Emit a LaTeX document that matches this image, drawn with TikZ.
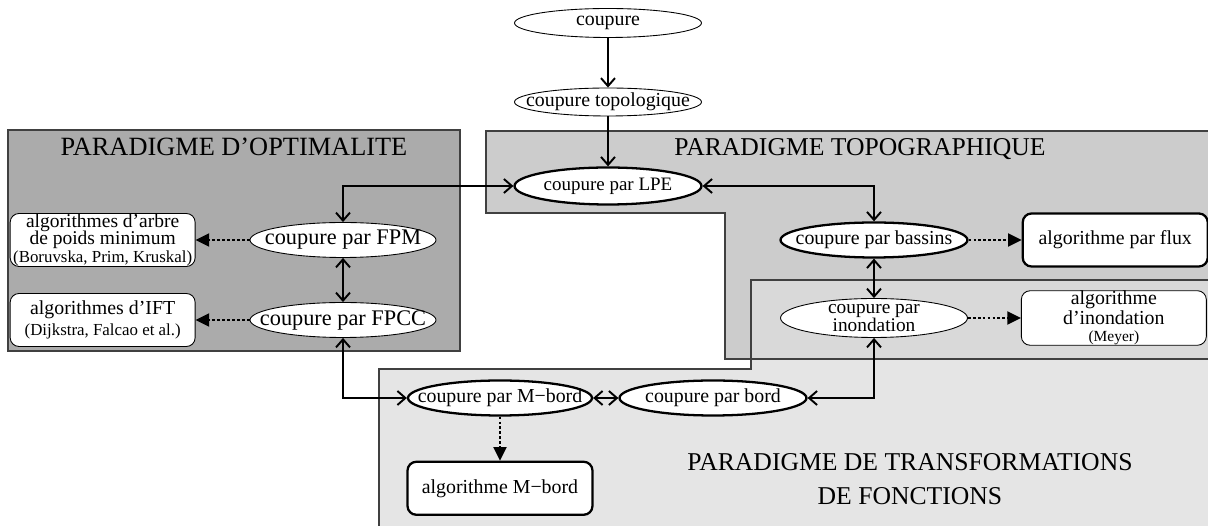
\documentclass[tikz,border=0pt]{standalone}
\usepackage{fontspec}
\setmainfont{Liberation Serif}
\usetikzlibrary{shapes.geometric,positioning,arrows.meta}
\newcommand{\algrefs}[1]{{\fontsize{9.6}{10}\selectfont #1}}
\newcommand{\inell}[1]{\makebox[0pt]{#1}}
\tikzset{
cut/.style={ellipse,draw,fill=white,line width=0.5pt,inner sep=0pt,minimum width=3.74cm,minimum height=0.7cm},
cutb/.style={cut,line width=1.3pt},
algbox/.style={draw,fill=white,rounded corners=5pt,line width=0.5pt,inner sep=0pt,minimum width=3.7cm,minimum height=1.06cm,align=center},
algboxb/.style={algbox,line width=1.3pt},
zoneline/.style={draw=black!75,line width=0.6pt},
title/.style={font=\fontsize{14.6}{19.4}\selectfont,align=center},
link/.style={{Straight Barb[length=1.6mm,width=2.8mm]}-{Straight Barb[length=1.6mm,width=2.8mm]},line width=1.1pt},
onelink/.style={-{Straight Barb[length=1.6mm,width=2.8mm]},line width=1.1pt},
impl/.style={-{Triangle[length=2.7mm,width=2.6mm]},line width=1.1pt,dash pattern=on 1.6pt off 1.2pt}
}
\begin{document}
\begin{tikzpicture}[x=0.02cm,y=-0.02cm,every node/.style={font=\fontsize{11.3}{13}\selectfont}]
\useasboundingbox (0,0) rectangle (1208,526);
% zones
\fill[black!10] (379,526) -- (379,369) -- (751,369) -- (751,280) -- (1208,280) -- (1208,526) -- cycle;
\fill[black!20] (486,131) -- (1208,131) -- (1208,359) -- (725,359) -- (725,213) -- (486,213) -- cycle;
\fill[black!15] (751,280) rectangle (1208,359);
\draw[zoneline] (379,527) -- (379,369) -- (751,369) -- (751,280) -- (1209,280);
\draw[zoneline] (1209,131) -- (486,131) -- (486,213) -- (725,213) -- (725,359) -- (1209,359);
\filldraw[zoneline,fill=black!33] (8,130) rectangle (460,351);
\node[title,font=\fontsize{15}{19}\selectfont] (optim) at (234,147) {PARADIGME D'OPTIMALITE};
\node[title] (topog) at (860,149) {PARADIGME TOPOGRAPHIQUE};
\node[title] (transf) at (910,479) {PARADIGME DE TRANSFORMATIONS\\DE FONCTIONS};
% coupures
\node[cut,minimum height=0.58cm] (coup) at (608,23) {\inell{coupure}};
\node[cut,minimum height=0.56cm] (topo) at (608,102) {\inell{coupure topologique}};
\node[cutb,minimum height=0.74cm,font=\fontsize{10.8}{13}\selectfont] (lpe) at (608,186) {\inell{coupure par LPE}};
\node[cut,minimum width=3.72cm,font=\fontsize{12.7}{14}\selectfont] (fpm) at (343,240) {\inell{coupure par FPM}};
\node[cut,minimum width=3.72cm,font=\fontsize{12.7}{14}\selectfont] (fpcc) at (343,320) {\inell{coupure par FPCC}};
\node[cutb] (bassins) at (874,240) {\inell{coupure par bassins}};
\node[cut,minimum height=0.78cm,font=\fontsize{11}{13}\selectfont] (inond) at (874,318) {\inell{\raisebox{-0.25em}[0pt][0pt]{\begin{tabular}{@{}c@{}}coupure par\\[-2.6pt]inondation\end{tabular}}}};
\node[cutb,minimum width=3.68cm] (mbord) at (500,398) {\inell{coupure par M−bord}};
\node[cutb] (bord) at (713,398) {\inell{coupure par bord}};
% algorithmes
\node[algbox,left=1.08cm of fpm,font=\fontsize{11.1}{10.2}\selectfont] (arbre) {algorithmes d'arbre\\de poids minimum\\\algrefs{(Boruvska, Prim, Kruskal)}};
\node[algbox,left=1.08cm of fpcc,font=\fontsize{11.3}{11.6}\selectfont] (ift) {algorithmes d'IFT\\\algrefs{(Dijkstra, Falcao et al.)}};
\node[algboxb,right=1.06cm of bassins] (flux) {algorithme par flux};
\node[algbox,right=1.06cm of inond,font=\fontsize{11.3}{10}\selectfont] (alginond) {algorithme\\d'inondation\\{\fontsize{8.8}{8}\selectfont (Meyer)}};
\node[algboxb,below=0.88cm of mbord] (algmbord) {algorithme M−bord};
% liens
\draw[onelink] (coup) -- (topo);
\draw[onelink] (topo) -- (lpe);
\draw[link] (fpm.north) |- (lpe.west);
\draw[link] (lpe.east) -| (bassins.north);
\draw[link] (fpm) -- (fpcc);
\draw[link] (fpcc.south) |- (mbord.west);
\draw[link] (mbord) -- (bord);
\draw[link] (bord.east) -| (inond.south);
\draw[link] (bassins) -- (inond);
\draw[impl] (fpm) -- (arbre);
\draw[impl] (fpcc) -- (ift);
\draw[impl] (bassins) -- (flux);
\draw[impl] (inond) -- (alginond);
\draw[impl] (mbord) -- (algmbord);
\end{tikzpicture}
\end{document}
